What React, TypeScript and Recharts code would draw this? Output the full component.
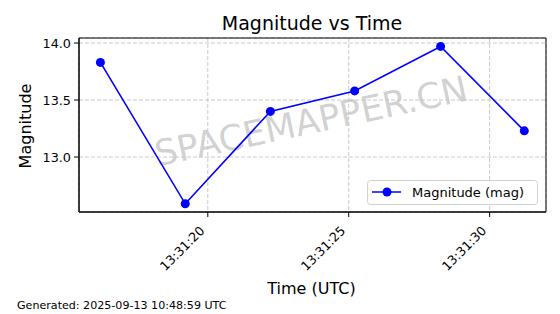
import React from 'react';
import {
  LineChart, Line, XAxis, YAxis, CartesianGrid, Legend, ReferenceArea,
} from 'recharts';

// seconds after 13:31:00 UTC
const TIMES = [16.19, 19.2, 22.22, 25.21, 28.26, 31.23];
const MAGNITUDES = [13.83, 12.59, 13.4, 13.58, 13.97, 13.23];
const X_TICKS = [20, 25, 30];
const Y_TICKS = [13.0, 13.5, 14.0];
const X_DOMAIN = [15.43, 32.0];
const Y_DOMAIN = [12.518, 14.044];

const FONT = '"DejaVu Sans", Verdana, sans-serif';
const BLUE = '#0000ff';

const data = TIMES.map((t, i) => ({ t, mag: MAGNITUDES[i] }));

const fmtTime = (s: number) => `13:31:${String(Math.round(s)).padStart(2, '0')}`;

const TimeTick: React.FC<any> = ({ x, y, payload }) => (
  <text
    x={x - 2.5}
    y={y + 14.5}
    textAnchor="end"
    transform={`rotate(-45, ${x - 2.5}, ${y + 14.5})`}
    fontSize={12.6}
    fontFamily={FONT}
    fill="#000"
  >
    {fmtTime(payload.value)}
  </text>
);

const LegendBox: React.FC<any> = () => (
  <svg width={172} height={26} style={{ display: 'block' }}>
    <rect x={0.5} y={0.5} width={170} height={24} rx={3} fill="#fff" fillOpacity={0.8} stroke="#d0d0d0" />
    <line x1={5} y1={12} x2={34} y2={12} stroke={BLUE} strokeWidth={1.5} />
    <circle cx={20} cy={12} r={4.5} fill={BLUE} />
    <text x={45} y={16.5} fontSize={13} fontFamily={FONT} fill="#000">Magnitude (mag)</text>
  </svg>
);

const App: React.FC = () => (
  <div style={{ position: 'absolute', left: 0, top: 0, width: 560, height: 314, background: '#fff' }}>
    <svg width={560} height={314} style={{ position: 'absolute', left: 0, top: 0 }}>
      <text x={312} y={30} textAnchor="middle" fontSize={19} fontFamily={FONT} fill="#000">
        Magnitude vs Time
      </text>
      <text
        x={311}
        y={121}
        textAnchor="middle"
        dominantBaseline="central"
        transform="rotate(-12, 311, 121)"
        fontSize={35.5}
        fontFamily={FONT}
        fill="#999"
        fillOpacity={0.45}
      >
        SPACEMAPPER.CN
      </text>
      <text x={311.5} y={294} textAnchor="middle" fontSize={16} fontFamily={FONT} fill="#000">
        Time (UTC)
      </text>
      <text
        x={31}
        y={126}
        textAnchor="middle"
        transform="rotate(-90, 31, 126)"
        fontSize={16}
        fontFamily={FONT}
        fill="#000"
      >
        Magnitude
      </text>
      <text x={17} y={309} fontSize={11.1} fontFamily={FONT} fill="#000">
        Generated: 2025-09-13 10:48:59 UTC
      </text>
    </svg>
    <div style={{ position: 'absolute', left: 0, top: 0 }}>
      <LineChart width={560} height={314} data={data} margin={{ top: 38, right: 14, left: 29, bottom: 42 }}>
        <CartesianGrid stroke="#c8c8c8" strokeDasharray="4 2" />
        <XAxis
          dataKey="t"
          type="number"
          domain={X_DOMAIN}
          ticks={X_TICKS}
          tick={<TimeTick />}
          tickSize={5}
          tickMargin={0}
          height={60}
          axisLine={{ stroke: '#000' }}
          tickLine={{ stroke: '#000' }}
          interval={0}
        />
        <YAxis
          type="number"
          domain={Y_DOMAIN}
          ticks={Y_TICKS}
          tickFormatter={(v: number) => v.toFixed(1)}
          tick={{ fill: '#000', fontSize: 12.8, fontFamily: FONT }}
          tickSize={5}
          tickMargin={3}
          width={50}
          axisLine={{ stroke: '#000' }}
          tickLine={{ stroke: '#000' }}
          interval={0}
        />
        <ReferenceArea
          x1={X_DOMAIN[0]}
          x2={X_DOMAIN[1]}
          y1={Y_DOMAIN[0]}
          y2={Y_DOMAIN[1]}
          fill="none"
          stroke="#000"
          strokeWidth={1}
          ifOverflow="visible"
        />
        <Legend
          content={<LegendBox />}
          layout="vertical"
          align="center"
          verticalAlign="middle"
          wrapperStyle={{ position: 'absolute', left: 367, top: 180, width: 172, height: 26 }}
        />
        <Line
          dataKey="mag"
          type="linear"
          stroke={BLUE}
          strokeWidth={1.6}
          dot={{ r: 4.5, fill: BLUE, stroke: 'none' }}
          activeDot={false}
          isAnimationActive={false}
        />
      </LineChart>
    </div>
  </div>
);

export default App;
